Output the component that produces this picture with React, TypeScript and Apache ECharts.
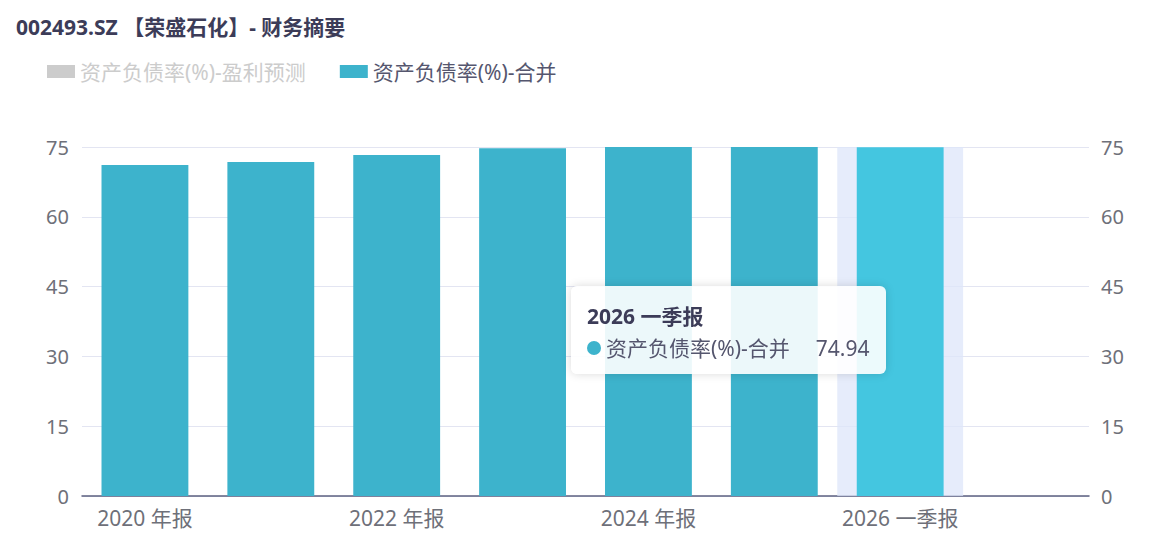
import React, { useEffect, useRef } from "react";
import * as echarts from "echarts";

const categories = ["2020 年报", "2021 年报", "2022 年报", "2023 年报", "2024 年报", "2025 年报", "2026 一季报", "2026 年报"];
const forecastValues: (number | null)[] = [null, null, null, null, null, null, null, null];
const mergedValues: (number | null)[] = [71.15, 71.8, 73.3, 74.75, 75.3, 75.2, 74.94, null];
const yTicks = { min: 0, max: 75, interval: 15 };
const titleText = "002493.SZ 【荣盛石化】- 财务摘要";
const seriesNames = ["资产负债率(%)-盈利预测", "资产负债率(%)-合并"];
const hoverIndex = 6;

export default function App() {
  const ref = useRef<HTMLDivElement>(null);
  useEffect(() => {
    document.body.style.margin = "0";
    const chart = echarts.init(ref.current!, null, { renderer: "svg" });
    const font = "'Noto Sans', 'Noto Sans CJK SC', sans-serif";
    const baseColor = "#3db3cc";
    chart.setOption({
      animation: false,
      textStyle: { fontFamily: font },
      title: {
        text: titleText,
        left: 11,
        top: 11,
        textStyle: { fontSize: 21, fontWeight: "bold", color: "#3c3c58", fontFamily: font },
      },
      legend: {
        left: 42,
        top: 56,
        itemWidth: 28,
        itemHeight: 13,
        itemGap: 34,
        icon: "rect",
        textStyle: { fontSize: 21, color: "#55566e", fontFamily: font },
        inactiveColor: "#cccccc",
        selected: { [seriesNames[0]]: false, [seriesNames[1]]: true },
        data: seriesNames,
      },
      tooltip: {
        trigger: "axis",
        alwaysShowContent: true,
        axisPointer: { type: "shadow", z: 1, shadowStyle: { color: "rgba(222,230,250,0.75)" } },
        backgroundColor: "rgba(255,255,255,0.9)",
        borderWidth: 0,
        padding: [16, 16, 12, 16],
        extraCssText: "box-shadow: 0 0 10px rgba(0,0,0,0.15); border-radius: 6px;",
        position: () => [571, 286],
        formatter: (params: any) => {
          const list = Array.isArray(params) ? params : [params];
          const name = list[0]?.name ?? "";
          let html = `<div style="font-family:${font};font-size:21px;font-weight:bold;color:#3c3c58;line-height:28px;margin-bottom:4px">${name}</div>`;
          list.forEach((p: any) => {
            if (p.value == null) return;
            html += `<div style="font-family:${font};font-size:21px;color:#55566e;line-height:28px;display:flex;align-items:center"><span style="display:inline-block;width:14px;height:14px;border-radius:7px;background:${baseColor};margin-right:5px"></span><span>${p.seriesName}</span><span style="margin-left:26px">${p.value}</span></div>`;
          });
          return html;
        },
      },
      grid: { left: 82, right: 76, top: 147, bottom: 42, containLabel: false },
      xAxis: {
        type: "category",
        data: categories,
        axisTick: { show: false },
        axisLine: { lineStyle: { color: "#5c6080", width: 1.5 } },
        axisLabel: { fontSize: 21, color: "#6e7079", margin: 11, interval: 1, fontFamily: font },
      },
      yAxis: [
        {
          type: "value",
          min: yTicks.min,
          max: yTicks.max,
          interval: yTicks.interval,
          axisLabel: { fontSize: 20, color: "#6e7079", margin: 13, fontFamily: font },
          splitLine: { lineStyle: { color: "#e3e5f2" } },
          axisLine: { show: false },
        },
        {
          type: "value",
          min: yTicks.min,
          max: yTicks.max,
          interval: yTicks.interval,
          axisLabel: { fontSize: 20, color: "#6e7079", margin: 12, fontFamily: font },
          splitLine: { show: false },
          axisLine: { show: false },
        },
      ],
      series: [
        {
          name: seriesNames[0],
          type: "bar",
          data: forecastValues,
          barWidth: "69%",
          z: 2,
          itemStyle: { color: "#cccccc" },
        },
        {
          name: seriesNames[1],
          type: "bar",
          data: mergedValues.map((v, i) => (i === hoverIndex ? { value: v, itemStyle: { color: "#44c6e0" } } : v)),
          barWidth: "69%",
          barGap: "-100%",
          z: 3,
          itemStyle: { color: baseColor },
          emphasis: { disabled: true },
        },
      ],
    });
    chart.dispatchAction({ type: "showTip", seriesIndex: 1, dataIndex: hoverIndex });
    return () => chart.dispose();
  }, []);
  return <div ref={ref} style={{ position: "absolute", left: 0, top: 0, width: 1165, height: 538 }} />;
}
